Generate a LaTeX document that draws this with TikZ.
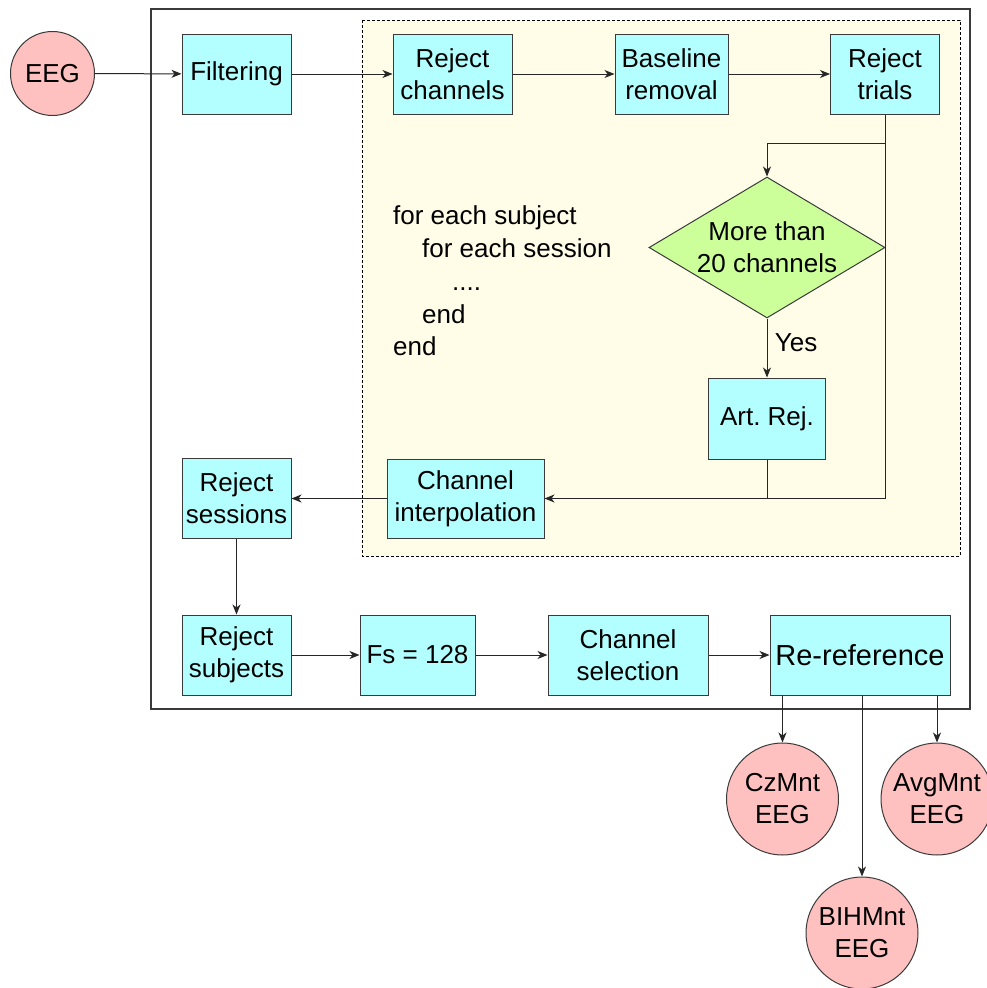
\documentclass[tikz,border=0pt]{standalone}
\usepackage{fontspec}
\setmainfont{Liberation Sans}
\usetikzlibrary{shapes.geometric,arrows.meta}
\definecolor{boxfill}{HTML}{B3FFFF}
\definecolor{termfill}{HTML}{FFC0C0}
\definecolor{decfill}{HTML}{CCFF99}
\definecolor{loopfill}{HTML}{FFFDE8}
\definecolor{edge}{HTML}{3A3A3A}

\begin{document}
\frenchspacing
\begin{tikzpicture}[x=1pt,y=-1pt,
  every node/.style={font=\fontsize{26}{32}\selectfont, text=black},
  proc/.style={draw=edge, line width=1pt, fill=boxfill, rectangle, align=center,
    inner sep=0pt, minimum height=80pt},
  term/.style={draw=edge, line width=1pt, fill=termfill, circle, align=center,
    inner sep=0pt, minimum size=112pt},
  decision/.style={draw=edge, line width=1pt, fill=decfill, diamond, align=center,
    inner sep=0pt, aspect=1.674, minimum width=236pt, minimum height=141pt},
  code/.style={anchor=base west, inner sep=0pt},
  link/.style={draw=black!85, line width=1pt},
  arr/.style={link, -{Stealth[length=10pt,width=8pt,inset=3pt]}},
]
\useasboundingbox (0,0) rectangle (986,988);
\fill[white] (0,0) rectangle (986,988);

% outer frame and the per-subject / per-session loop area
\draw[edge, line width=1.4pt] (151,9) rectangle (970,709);
\draw[black, line width=0.9pt, dash pattern=on 3pt off 2pt, fill=loopfill]
  (362,20) rectangle (960,556);

% input
\node[term, minimum size=84pt] (eeg) at (52.5,73.5) {EEG};

% top row
\node[proc, minimum width=109pt] (filt)  at (236.5,74) {Filtering};
\node[proc, minimum width=119pt] (rejch) at (452.5,74) {Reject\\channels};
\node[proc, minimum width=113pt] (base)  at (671.5,74) {Baseline\\removal};
\node[proc, minimum width=109pt] (rejtr) at (885,74) {Reject\\trials};

% decision and artifact rejection
\node[decision] (dec) at (767,247.5) {More than\\20 channels};
\node[proc, minimum width=117pt, minimum height=81pt] (art) at (767,418.5) {Art. Rej.};
\node[proc, minimum width=157pt, minimum height=79pt] (chint) at (465.5,498.5) {Channel\\interpolation};

% loop pseudo-code
\node[code] (c1) at (393,224) {for each subject};
\node[code] (c2) at (422,257) {for each session};
\node[code] (c3) at (452,290) {....};
\node[code] (c4) at (422,323) {end};
\node[code] (c5) at (393,355) {end};

% left column and bottom row
\node[proc, minimum width=109pt] (rejses) at (236.5,498.5) {Reject\\sessions};
\node[proc, minimum width=109pt] (rejsub) at (236.5,655) {Reject\\subjects};
\node[proc, minimum width=115pt] (fs)     at (417.5,655) {Fs = 128};
\node[proc, minimum width=160pt] (chsel)  at (628,655) {Channel\\selection};
\node[proc, minimum width=180pt, font=\fontsize{29}{34}\selectfont] (reref) at (860,655) {Re-reference};

% outputs
\node[term] (cz)  at (782.5,799) {CzMnt\\EEG};
\node[term] (avg) at (937,799) {AvgMnt\\EEG};
\node[term] (bih) at (862,933) {BIHMnt\\EEG};

% connectors
\draw[arr] (eeg) -- (filt);
\draw[arr] (filt) -- (rejch);
\draw[arr] (rejch) -- (base);
\draw[arr] (base) -- (rejtr);
\draw[arr] (rejtr.south) -- (rejtr.south |- 0,143) -| (dec.north);
\draw[arr] (rejtr.south) |- (chint.east);
\draw[arr] (dec.south) -- node[right, xshift=4pt, yshift=5pt] (yes) {Yes} (art.north);
\draw[link] (art.south) -- (art.south |- chint.east);
\draw[arr] (chint.west) -- (rejses.east);
\draw[arr] (rejses) -- (rejsub);
\draw[arr] (rejsub) -- (fs);
\draw[arr] (fs) -- (chsel);
\draw[arr] (chsel) -- (reref);
\draw[arr] (cz |- reref.south) -- (cz.north);
\draw[arr] (bih |- reref.south) -- (bih.north);
\draw[arr] (avg |- reref.south) -- (avg.north);
\end{tikzpicture}
\end{document}
